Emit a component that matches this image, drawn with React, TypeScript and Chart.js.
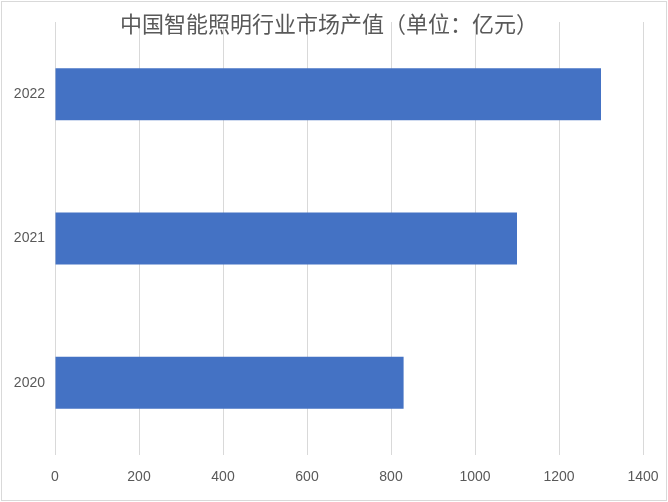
import React, { useEffect, useRef } from 'react'
import { Chart, registerables } from 'chart.js'

Chart.register(...registerables)

const years = ['2022', '2021', '2020']
const outputValues = [1300, 1100, 830]
const xTicks = [0, 200, 400, 600, 800, 1000, 1200, 1400]
const chartTitle = '中国智能照明行业市场产值（单位：亿元）'

const App: React.FC = () => {
  const canvasRef = useRef<HTMLCanvasElement | null>(null)

  useEffect(() => {
    document.body.style.margin = '0'
    if (!canvasRef.current) return

    // title is drawn over the grid, like the original
    const overlay = {
      id: 'overlay',
      afterDraw(chart: Chart) {
        const ctx = chart.ctx
        ctx.save()
        ctx.strokeStyle = '#d9d9d9'
        ctx.lineWidth = 1
        ctx.strokeRect(1.5, 1.5, 665, 499)
        ctx.fillStyle = '#595959'
        ctx.font = '22px "Noto Sans CJK SC", sans-serif'
        ctx.textAlign = 'center'
        ctx.textBaseline = 'middle'
        ctx.fillText(chartTitle, 329, 24)
        ctx.restore()
      },
    }

    const chart = new Chart(canvasRef.current, {
      type: 'bar',
      data: {
        labels: years,
        datasets: [
          {
            data: outputValues,
            backgroundColor: '#4472c4',
            categoryPercentage: 1,
            barPercentage: 0.36,
          },
        ],
      },
      options: {
        indexAxis: 'y',
        responsive: false,
        animation: false,
        layout: { padding: { top: 22, right: 25, left: 0, bottom: 0 } },
        plugins: {
          legend: { display: false },
          tooltip: { enabled: false },
        },
        scales: {
          x: {
            min: 0,
            max: 1400,
            afterBuildTicks: (axis: any) => {
              axis.ticks = xTicks.map(v => ({ value: v }))
            },
            afterFit: (axis: any) => {
              axis.height = 47
              axis.paddingLeft = 0
              axis.paddingRight = 0
            },
            grid: { color: '#d9d9d9', drawTicks: false },
            border: { display: false },
            ticks: {
              color: '#595959',
              font: { size: 14, family: 'Liberation Sans' },
              padding: 14,
              callback: (v: any) => String(v),
            },
          },
          y: {
            afterFit: (axis: any) => {
              axis.width = 55
            },
            grid: { display: false, drawTicks: false },
            border: { display: false },
            ticks: {
              color: '#595959',
              font: { size: 14, family: 'Liberation Sans' },
              padding: 10,
            },
          },
        },
      },
      plugins: [overlay],
    })

    return () => {
      chart.destroy()
    }
  }, [])

  return (
    <div>
      <canvas ref={canvasRef} width={668} height={502} />
    </div>
  )
}

export default App
